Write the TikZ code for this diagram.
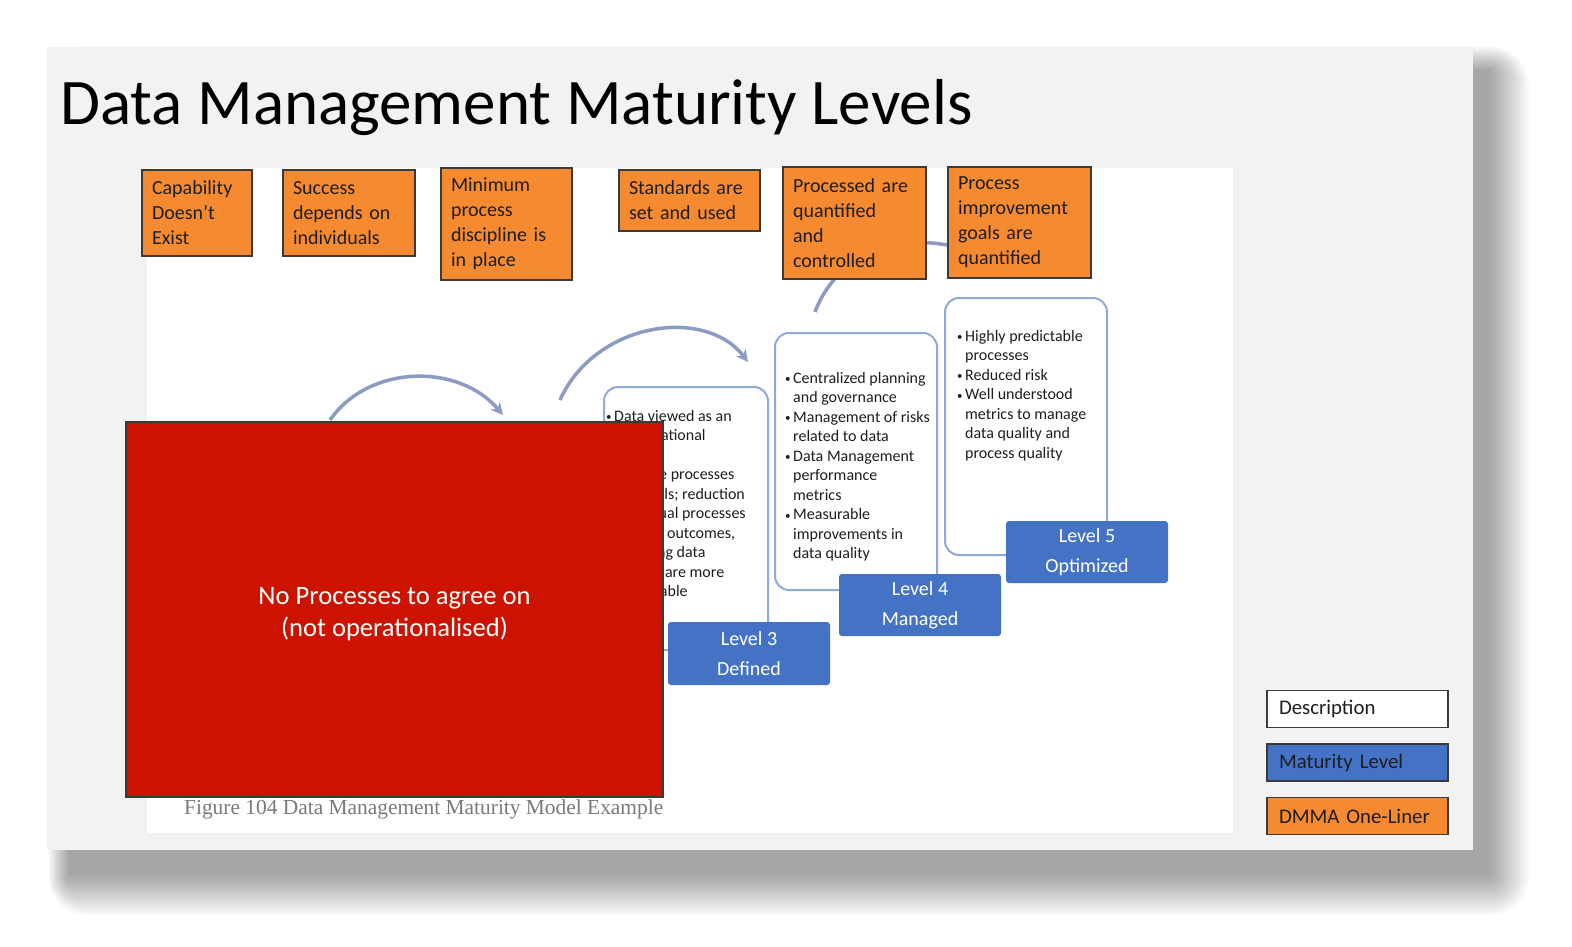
\documentclass[tikz,border=0pt]{standalone}
\usepackage{fontspec}
\setmainfont{Carlito}
\newfontfamily\capfont{Liberation Serif}
\usetikzlibrary{arrows.meta,positioning}
\definecolor{slide}{HTML}{F2F2F2}
\definecolor{orange}{HTML}{F58A31}
\definecolor{blue}{HTML}{4472C4}
\definecolor{edge}{HTML}{3A3A3A}
\definecolor{frame}{HTML}{8EAADB}
\definecolor{arcblue}{HTML}{8A9CC2}
\definecolor{red}{HTML}{CB1300}
\definecolor{ink}{HTML}{1E1E1E}
\definecolor{capgray}{HTML}{7A7A7A}
\newcommand{\bu}{\makebox[8pt][l]{\raisebox{0.5pt}{\fontsize{11}{11}\selectfont\textbullet}}}
\newcommand{\ind}{\hspace*{8pt}}
\tikzset{
  box/.style={draw=edge, line width=1.5pt, inner sep=0pt},
  liner/.style={box, fill=orange, align=left, text=ink, font=\fontsize{20}{25}\selectfont, inner xsep=10pt},
  desc/.style={draw=frame, line width=2pt, rounded corners=14pt, fill=white},
  level/.style={fill=blue, rounded corners=3pt, inner sep=0pt, align=center, text=white, font=\fontsize{20}{30}\selectfont},
  bullets/.style={anchor=north west, align=left, inner sep=0pt, text=ink, font=\fontsize{16}{19.5}\selectfont},
  legend/.style={box, align=left, text=ink, text width=157pt, minimum height=37pt, inner xsep=12pt, font=\fontsize{20.8}{24}\selectfont},
  arc/.style={line width=3.5pt, draw=arcblue, -{Stealth[length=12pt,width=12pt]}},
  blocker/.style={box, fill=red},
  blocktext/.style={text=white, align=center, font=\fontsize{26.6}{32}\selectfont}
}
\begin{document}
\begin{tikzpicture}[x=1pt, y=-1pt, node distance=15pt]
\useasboundingbox[fill=white] (0,0) rectangle (1572,947);
\foreach \s in {0,3,...,39} {\fill[black, opacity=0.026, rounded corners=\s] (68-0.5*\s,70-0.6*\s) rectangle (1490+\s,876+\s);}
\fill[slide] (47,47) rectangle (1473,850);
\fill[white] (147,168) rectangle (1233,833);
\node[anchor=base west, inner sep=0pt, font=\fontsize{65}{70}\selectfont] (title) at (60,125) {Data Management Maturity Levels};

\coordinate (p1) at (330,420); \coordinate (q1) at (503,415);
\coordinate (p2) at (560,400); \coordinate (q2) at (748,362);
\coordinate (p3) at (815,312); \coordinate (q3) at (995,262);
\draw[arc] (p1) .. controls (369,364) and (459,363) .. (q1);
\draw[arc] (p2) .. controls (595,322) and (705,306) .. (q2);
\draw[arc] (p3) .. controls (840,245) and (920,225) .. (q3);

\node[liner, text width=90pt, minimum height=86pt] (o1) at (197,213) {Capability\\Doesn’t\\Exist};
\node[liner, text width=112pt, minimum height=86pt] (o2) at (349,213) {Success\\depends on\\individuals};
\node[liner, text width=111pt, minimum height=112pt] (o3) at (506.5,224) {Minimum\\process\\discipline is\\in place};
\node[liner, text width=121pt, minimum height=61pt] (o4) at (689.5,200.5) {Standards are\\set and used};
\node[liner, text width=123pt, minimum height=112pt] (o5) at (854.5,223) {Processed are\\quantified\\and\\controlled};
\node[liner, text width=123pt, minimum height=111pt] (o6) at (1019.5,222.5) {Process\\improvement\\goals are\\quantified};

\node[desc, minimum width=164pt, minimum height=263pt] (d3) at (686,518.5) {};
\node[desc, minimum width=162pt, minimum height=257pt] (d4) at (856,461.5) {};
\node[desc, minimum width=162pt, minimum height=257pt] (d5) at (1026,426.5) {};
\node[bullets] (t3) at (606,410) {\bu Data viewed as an\\\ind organizational\\\ind enabler\\\bu Scalable processes\\\ind and tools; reduction\\\ind in manual processes\\\bu Process outcomes,\\\ind including data\\\ind quality, are more\\\ind predictable};
\node[bullets] (t4) at (785,372) {\bu Centralized planning\\\ind and governance\\\bu Management of risks\\\ind related to data\\\bu Data Management\\\ind performance\\\ind metrics\\\bu Measurable\\\ind improvements in\\\ind data quality};
\node[bullets] (t5) at (957,330) {\bu Highly predictable\\\ind processes\\\bu Reduced risk\\\bu Well understood\\\ind metrics to manage\\\ind data quality and\\\ind process quality};

\node[level, minimum width=162pt, minimum height=63pt] (l3) at (749,653.5) {Level 3\\Defined};
\node[level, minimum width=162pt, minimum height=62pt] (l4) at (920,605) {Level 4\\Managed};
\node[level, minimum width=162pt, minimum height=62pt] (l5) at (1087,552) {Level 5\\Optimized};

\node[blocker, minimum width=537pt, minimum height=375pt] (na) at (394.5,609.5) {};
\node[blocktext, yshift=-5pt] (nat) at (na.center) {No Processes to agree on\\(not operationalised)};
\node[anchor=west, inner sep=0pt, text=capgray, font=\capfont\fontsize{21.4}{24}\selectfont] (cap) at (184,809) {Figure 104 Data Management Maturity Model Example};

\node[legend, fill=white] (k1) at (1357.5,709) {Description};
\node[legend, fill=blue, below=of k1] (k2) {Maturity Level};
\node[legend, fill=orange, below=of k2] (k3) {DMMA One-Liner};
\end{tikzpicture}
\end{document}
